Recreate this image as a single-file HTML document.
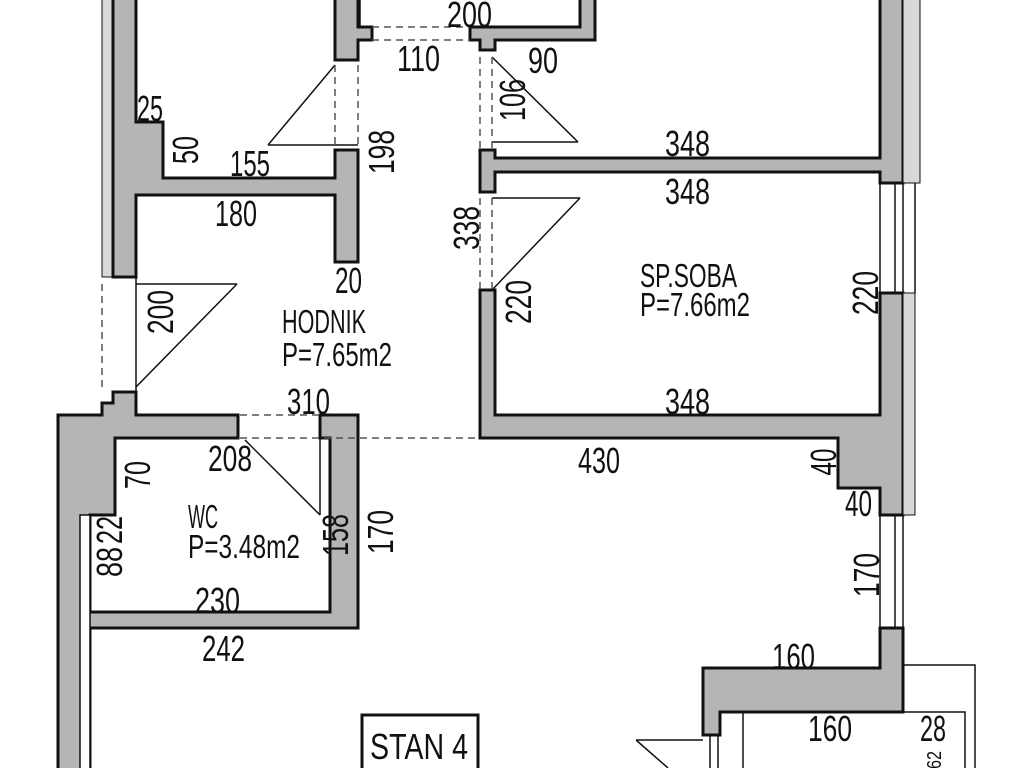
<!DOCTYPE html>
<html><head><meta charset="utf-8"><style>
html,body{margin:0;padding:0;background:#fff;}
svg{display:block}
text{font-family:"Liberation Sans",sans-serif;fill:#111;}
</style></head><body>
<svg width="1024" height="768" viewBox="0 0 1024 768" xmlns="http://www.w3.org/2000/svg">
<g fill="#b5b5b5" stroke="#111" stroke-width="3" stroke-linejoin="miter">
<rect x="102" y="-5" width="11" height="282" fill="#d8d8d8" stroke-width="1"/>
<polygon points="113,-5 136,-5 136,122 163,122 163,178 335,178 335,150 358,150 358,262 335,262 335,195 136,195 136,277 113,277"/>
<polygon points="335,-5 358,-5 358,27 372,27 372,40 358,40 358,60 335,60"/>
<polygon points="470,27 580,27 580,-5 595,-5 595,40 495,40 495,50 480,50 480,40 470,40"/>
<polygon points="480,150 495,150 495,158 880,158 880,-5 903,-5 903,183 880,183 880,172 495,172 495,192 480,192"/>
<rect x="903" y="-5" width="17" height="188" fill="#d8d8d8" stroke-width="1"/>
<polygon points="480,290 495,290 495,415 880,415 880,293 903,293 903,515 880,515 880,488 838,488 838,438 480,438"/>
<rect x="903" y="293" width="12" height="222" fill="#d8d8d8" stroke-width="1"/>
<polygon points="58,415 102,415 102,403 113,403 113,392 136,392 136,415 238,415 238,438 115,438 115,515 90,515 90,612 330,612 330,438 320,438 320,415 358,415 358,628 90,628 90,780 58,780"/>
<rect x="80" y="515" width="10" height="265" fill="#fff" stroke-width="1.5"/>
<polygon points="880,628 903,628 903,712 720,712 720,735 703,735 703,668 880,668"/>
</g>
<g stroke="#111" fill="none" stroke-width="1.5">
<line x1="880" y1="183" x2="880" y2="293"/><line x1="895" y1="183" x2="895" y2="293"/><line x1="903" y1="183" x2="903" y2="293"/><line x1="915" y1="183" x2="915" y2="293"/>
<line x1="880" y1="515" x2="880" y2="628"/><line x1="895" y1="515" x2="895" y2="628"/><line x1="903" y1="515" x2="903" y2="628"/>
<rect x="743" y="712" width="222" height="70"/>
<polyline points="903,665 975,665 975,780"/>
<line x1="710" y1="735" x2="710" y2="780"/><line x1="718" y1="735" x2="718" y2="780"/>
<line x1="335" y1="65" x2="268" y2="145"/><line x1="268" y1="145" x2="358" y2="145"/>
<line x1="492" y1="57" x2="578" y2="142"/><line x1="492" y1="142" x2="578" y2="142"/>
<line x1="492" y1="290" x2="580" y2="198"/><line x1="492" y1="198" x2="580" y2="198"/>
<line x1="136" y1="284" x2="237" y2="284"/><line x1="237" y1="284" x2="136" y2="387"/><line x1="136" y1="277" x2="136" y2="392"/>
<line x1="245" y1="440" x2="320" y2="515"/><line x1="320" y1="415" x2="320" y2="515"/>
<line x1="636" y1="740" x2="703" y2="740"/><line x1="636" y1="740" x2="668" y2="768"/>
<line x1="360" y1="0" x2="360" y2="27"/>
</g>
<g stroke="#555" stroke-width="1.5" stroke-dasharray="7,5" fill="none">
<line x1="372" y1="27" x2="470" y2="27"/><line x1="372" y1="40" x2="470" y2="40"/>
<line x1="335" y1="65" x2="335" y2="145"/><line x1="358" y1="65" x2="358" y2="145"/>
<line x1="480" y1="57" x2="480" y2="150"/><line x1="492" y1="57" x2="492" y2="150"/>
<line x1="480" y1="198" x2="480" y2="290"/><line x1="492" y1="198" x2="492" y2="290"/>
<line x1="102" y1="284" x2="102" y2="387"/>
<line x1="240" y1="415" x2="320" y2="415"/><line x1="240" y1="438" x2="480" y2="438"/>
</g>
<rect x="362" y="715" width="116" height="60" fill="#fff" stroke="#111" stroke-width="3"/>
<g font-size="36">
<text x="447" y="27" textLength="45" lengthAdjust="spacingAndGlyphs">200</text>
<text x="397" y="71" textLength="43" lengthAdjust="spacingAndGlyphs">110</text>
<text x="528" y="73" textLength="30" lengthAdjust="spacingAndGlyphs">90</text>
<text x="137" y="121" textLength="26" lengthAdjust="spacingAndGlyphs">25</text>
<text x="230" y="176" textLength="40" lengthAdjust="spacingAndGlyphs">155</text>
<text x="215" y="226" textLength="42" lengthAdjust="spacingAndGlyphs">180</text>
<text x="665" y="156" textLength="45" lengthAdjust="spacingAndGlyphs">348</text>
<text x="665" y="204" textLength="45" lengthAdjust="spacingAndGlyphs">348</text>
<text x="665" y="414" textLength="45" lengthAdjust="spacingAndGlyphs">348</text>
<text x="335" y="293" textLength="27" lengthAdjust="spacingAndGlyphs">20</text>
<text x="640" y="287" font-size="33" textLength="97" lengthAdjust="spacingAndGlyphs">SP.SOBA</text>
<text x="640" y="316" font-size="33" textLength="110" lengthAdjust="spacingAndGlyphs">P=7.66m2</text>
<text x="282" y="333" font-size="33" textLength="84" lengthAdjust="spacingAndGlyphs">HODNIK</text>
<text x="282" y="366" font-size="33" textLength="110" lengthAdjust="spacingAndGlyphs">P=7.65m2</text>
<text x="287" y="414" textLength="43" lengthAdjust="spacingAndGlyphs">310</text>
<text x="208" y="471" textLength="44" lengthAdjust="spacingAndGlyphs">208</text>
<text x="578" y="473" textLength="42" lengthAdjust="spacingAndGlyphs">430</text>
<text x="845" y="516" textLength="27" lengthAdjust="spacingAndGlyphs">40</text>
<text x="188" y="528" font-size="33" textLength="30" lengthAdjust="spacingAndGlyphs">WC</text>
<text x="188" y="558" font-size="33" textLength="112" lengthAdjust="spacingAndGlyphs">P=3.48m2</text>
<text x="195" y="613" textLength="45" lengthAdjust="spacingAndGlyphs">230</text>
<text x="202" y="661" textLength="43" lengthAdjust="spacingAndGlyphs">242</text>
<text x="772" y="669" textLength="43" lengthAdjust="spacingAndGlyphs">160</text>
<text x="808" y="741" textLength="44" lengthAdjust="spacingAndGlyphs">160</text>
<text x="920" y="741" textLength="26" lengthAdjust="spacingAndGlyphs">28</text>
<text x="370" y="759" textLength="98" lengthAdjust="spacingAndGlyphs">STAN 4</text>
<g text-anchor="middle">
<text transform="translate(525,100) rotate(-90)" textLength="42" lengthAdjust="spacingAndGlyphs">106</text>
<text transform="translate(198,150) rotate(-90)" textLength="28" lengthAdjust="spacingAndGlyphs">50</text>
<text transform="translate(394,152) rotate(-90)" textLength="44" lengthAdjust="spacingAndGlyphs">198</text>
<text transform="translate(479,228) rotate(-90)" textLength="44" lengthAdjust="spacingAndGlyphs">338</text>
<text transform="translate(531,302) rotate(-90)" textLength="44" lengthAdjust="spacingAndGlyphs">220</text>
<text transform="translate(878,293) rotate(-90)" textLength="44" lengthAdjust="spacingAndGlyphs">220</text>
<text transform="translate(173,312) rotate(-90)" textLength="44" lengthAdjust="spacingAndGlyphs">200</text>
<text transform="translate(836,462) rotate(-90)" textLength="27" lengthAdjust="spacingAndGlyphs">40</text>
<text transform="translate(150,475) rotate(-90)" textLength="28" lengthAdjust="spacingAndGlyphs">70</text>
<text transform="translate(122,530) rotate(-90)" textLength="28" lengthAdjust="spacingAndGlyphs">22</text>
<text transform="translate(122,562) rotate(-90)" textLength="30" lengthAdjust="spacingAndGlyphs">88</text>
<text transform="translate(348,535) rotate(-90)" textLength="42" lengthAdjust="spacingAndGlyphs">158</text>
<text transform="translate(393,532) rotate(-90)" textLength="44" lengthAdjust="spacingAndGlyphs">170</text>
<text transform="translate(879,575) rotate(-90)" textLength="44" lengthAdjust="spacingAndGlyphs">170</text>
<text transform="translate(941,760) rotate(-90)" font-size="20" textLength="18" lengthAdjust="spacingAndGlyphs">62</text>
</g>
</g>
</svg>
</body></html>
